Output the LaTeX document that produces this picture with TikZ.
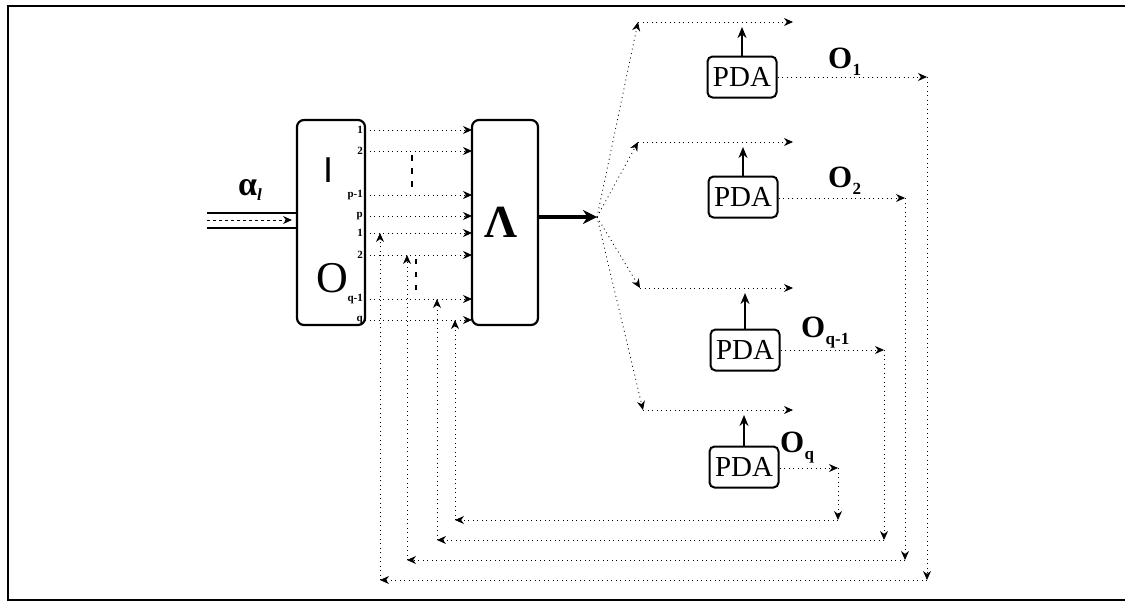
\documentclass[tikz,border=0pt]{standalone}
\usepackage{fontspec}
\setmainfont{Liberation Serif}
\setsansfont{Liberation Sans}
\usetikzlibrary{arrows.meta}
\begin{document}
\begin{tikzpicture}[x=1pt,y=-1pt,
  blk/.style={draw, line width=2.2pt, rounded corners=7pt, minimum width=68pt, minimum height=205pt, inner sep=0pt},
  pda/.style={draw, line width=2pt, rounded corners=5pt, minimum width=69pt, minimum height=41pt, inner sep=0pt, font=\fontsize{29}{29}\selectfont},
  dl/.style={line width=0.8pt, dash pattern=on 1pt off 3.5pt},
  tip/.style={-{Stealth[length=9pt,width=8pt]}},
  uptip/.style={line width=2pt, -{Stealth[length=11pt,width=9pt]}},
  port/.style={font=\bfseries\fontsize{11}{11}\selectfont, inner sep=0pt},
  olab/.style={font=\bfseries\fontsize{31}{31}\selectfont, inner sep=0pt, anchor=base west},
  sub/.style={font=\bfseries\fontsize{17}{17}\selectfont, inner sep=0pt, anchor=base west},
]
\useasboundingbox (0,0) rectangle (1125,603);
\draw[line width=2.5pt] (1125,6) -- (8,6) -- (8,600) -- (1125,600);

% input
\coordinate (a1) at (207,213);
\coordinate (a2) at (207,228);
\coordinate (a3) at (207,220);
\node[blk] (I) at (331,222.5) {};
\draw[line width=1.8pt] (a1) -- (a1 -| I.west);
\draw[line width=1.8pt] (a2) -- (a2 -| I.west);
\coordinate (a4) at (292,220);
\draw[line width=0.9pt, dash pattern=on 3pt off 3pt, tip] (a3) -- (a4);
\node[font=\bfseries\fontsize{34}{34}\selectfont, inner sep=0pt] (alpha) at (250,190) {α\raisebox{-5pt}{\fontsize{17}{17}\selectfont\itshape l}};

\node[font=\sffamily\fontsize{36}{36}\selectfont, inner sep=0pt] (Ilab) at (328,170) {I};
\node[font=\fontsize{44}{44}\selectfont, inner sep=0pt] (Olab) at (332,278) {O};

\node[blk, minimum width=66pt] (L) at (505,222.5) {};
\node[font=\bfseries\fontsize{46}{46}\selectfont, inner sep=0pt] (Llab) at (501,222) {Λ};

% ports and port lines
\foreach \y/\t [count=\i] in {130/1,151/2,195/p-1,216/p,233/1,255/2,299/q-1,320/q} {
  \node[port, anchor=east] (pl\i) at (363,\y) {\t};
  \coordinate (ps\i) at (365,\y);
  \coordinate (pe\i) at (472,\y);
  \draw[dl, tip] (ps\i) -- (pe\i);
}
% ellipses
\foreach \y in {155,168,181} \draw[line width=2.2pt] (412,\y) -- (412,\y+6);
\foreach \y in {259,272,285} \draw[line width=2.2pt] (416,\y) -- (416,\y+5);

% output of Lambda
\coordinate (lo) at (L.east |- 0,217);
\coordinate (split) at (597,217);
\draw[line width=3.2pt, -{Stealth[length=14pt,width=14pt]}] (lo) -- (split);

% branches
\foreach \cx/\cy/\px/\py [count=\i] in {638/22/742/77, 638/142/743/197, 640/288/745/350, 643/410/744/467} {
  \coordinate (c\i) at (\cx,\cy);
  \coordinate (r\i) at (793,\cy);
  \draw[dl, tip] (split) -- (c\i);
  \draw[dl, tip] (c\i) -- (r\i);
  \node[pda] (P\i) at (\px,\py) {PDA};
  \coordinate (u\i) at (\px,\cy+5);
  \draw[uptip] (P\i.north) -- (u\i);
}

% output labels
\node[olab] (O1) at (828,68) {O};
\node[sub] (s1) at ([yshift=-7pt]O1.base east) {1};
\node[olab] (O2) at (828,187) {O};
\node[sub] (s2) at ([yshift=-7pt]O2.base east) {2};
\node[olab] (O3) at (801,337) {O};
\node[sub] (s3) at ([yshift=-7pt]O3.base east) {q-1};
\node[olab] (O4) at (780,452) {O};
\node[sub] (s4) at ([yshift=-7pt]O4.base east) {q};

% feedback paths
\foreach \kx/\ky/\by/\ex/\fy [count=\i] in {927/77/580/380/233, 905/198/560/407/255, 884/350/540/437/299, 838/468/520/455/320} {
  \coordinate (k\i) at (\kx,\ky);
  \coordinate (b\i) at (\kx,\by);
  \coordinate (e\i) at (\ex,\by);
  \coordinate (f\i) at (\ex,\fy);
  \draw[dl, tip] (P\i.east |- k\i) -- (k\i);
  \draw[dl, tip] (k\i) -- (b\i);
  \draw[dl, tip] (b\i) -- (e\i);
  \draw[dl, tip] (e\i) -- (f\i);
}
\end{tikzpicture}
\end{document}
